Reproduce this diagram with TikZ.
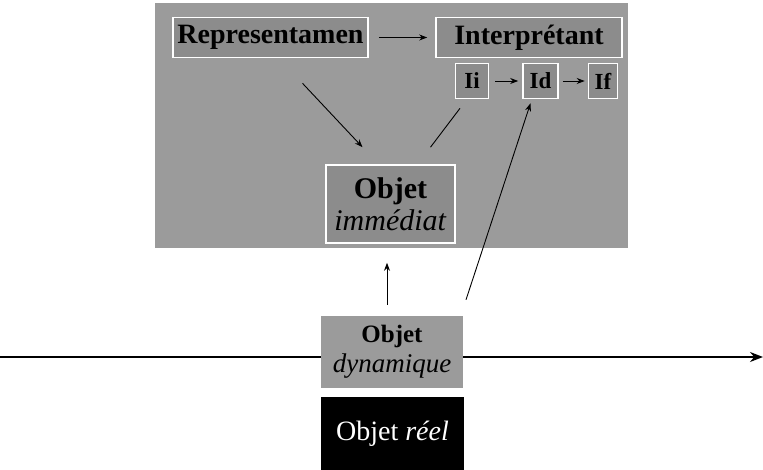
\documentclass[tikz,border=0pt]{standalone}
\usepackage{fontspec}
\setmainfont{Liberation Serif}
\usetikzlibrary{arrows.meta,calc}
\definecolor{bggray}{RGB}{155,155,155}
\definecolor{boxgray}{RGB}{140,140,140}
\begin{document}
\begin{tikzpicture}[x=1pt,y=-1pt,
  bigbox/.style={rectangle,fill=bggray,draw=none,inner sep=0pt},
  frame/.style={rectangle,fill=boxgray,draw=white,line width=1.6pt,inner sep=0pt,align=center},
  plain/.style={rectangle,fill=bggray,draw=none,inner sep=0pt,align=center},
  dark/.style={rectangle,fill=black,draw=none,inner sep=0pt,align=center,text=white},
  big/.style={font=\fontsize{28}{32}\selectfont\bfseries},
  small/.style={font=\fontsize{23}{26}\selectfont\bfseries},
  arr/.style={-{Stealth[length=8pt,width=6pt]},line width=0.9pt},
  ln/.style={line width=0.9pt}]
\useasboundingbox (0,0) rectangle (763,470);
\node[bigbox,minimum width=473pt,minimum height=245pt] (bg) at (391.5,125.5) {};
\node[frame,big,minimum width=195pt,minimum height=40pt] (rep) at (270.5,37.5) {Representamen};
\node[frame,big,minimum width=186pt,minimum height=40pt] (int) at (529,37.5) {Interprétant};
\node[frame,small,minimum width=33pt,minimum height=35pt] (ii) at (472,81) {Ii};
\node[frame,small,minimum width=35pt,minimum height=35pt] (id) at (540.5,81) {Id};
\node[frame,small,minimum width=29pt,minimum height=35pt] (if) at (603,81) {If};
\node[frame,minimum width=129pt,minimum height=78pt,font=\fontsize{30}{32}\selectfont] (oim) at (390.5,204) {\textbf{Objet}\\\textit{immédiat}};
\node[plain,minimum width=142pt,minimum height=72pt,font=\fontsize{27}{30}\selectfont] (odyn) at (392,352) {\textbf{\fontsize{25}{30}\selectfont Objet}\\\textit{dynamique}};
\node[dark,minimum width=143pt,minimum height=73pt,font=\fontsize{28}{30}\selectfont] (oreel) at (392.5,433.5) {Objet \textit{réel}};
\coordinate (L) at (0,357);
\coordinate (R) at (763,357);
\draw[line width=1.4pt] (L) -- (L -| odyn.west);
\draw[-{Stealth[length=13pt,width=10pt]},line width=1.4pt] (odyn.east |- R) -- (R);
\draw[arr,shorten <=10pt,shorten >=8pt] (rep.east) -- (int.west);
\draw[arr] ($(rep.south)+(32,25)$) -- ($(oim.north)+(-28,-17)$);
\draw[ln] ($(ii.south)+(-12,9)$) -- ($(oim.north)+(40,-17)$);
\draw[arr,shorten <=6pt,shorten >=4pt] (ii.east) -- (id.west);
\draw[arr,shorten <=4pt,shorten >=3pt] (id.east) -- (if.west);
\draw[arr] ($(odyn.north)+(74,-16)$) -- ($(id.south)+(-10,4)$);
\draw[arr] ($(odyn.north)+(-5,-11)$) -- ($(oim.south)+(-3.5,19)$);
\end{tikzpicture}
\end{document}
